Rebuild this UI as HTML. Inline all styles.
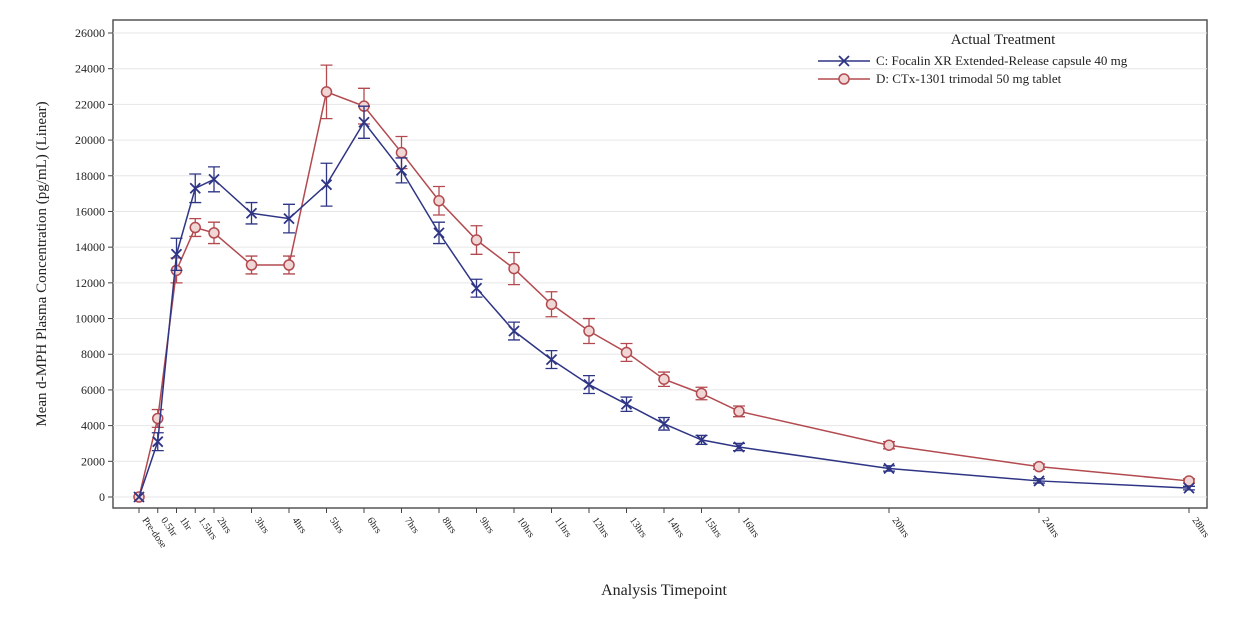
<!DOCTYPE html>
<html><head><meta charset="utf-8"><style>body{margin:0;background:#fff}svg{display:block}text{font-family:"Liberation Serif",serif;fill:#222}</style></head>
<body>
<svg id="s" width="1237" height="621" viewBox="0 0 1237 621"></svg>
<script>
const s=document.getElementById('s');let h='';
const X0=113,X1=1207,Y0=20,Y1=508;
const y=v=>497-v*(464/26000), x=t=>139+t*37.5;
h+=`<rect x="${X0}" y="${Y0}" width="${X1-X0}" height="${Y1-Y0}" fill="#fff" stroke="#555" stroke-width="1.5"/>`;
for(let v=0;v<=26000;v+=2000){h+=`<line x1="${X0}" x2="${X1}" y1="${y(v)}" y2="${y(v)}" stroke="#e6e6e6"/><line x1="${X0-5}" x2="${X0}" y1="${y(v)}" y2="${y(v)}" stroke="#444"/><text x="${X0-8}" y="${y(v)+4}" font-size="12" text-anchor="end">${v}</text>`;}
const T=[0,.5,1,1.5,2,3,4,5,6,7,8,9,10,11,12,13,14,15,16,20,24,28];
const L=['Pre-dose','0.5hr','1hr','1.5hrs','2hrs','3hrs','4hrs','5hrs','6hrs','7hrs','8hrs','9hrs','10hrs','11hrs','12hrs','13hrs','14hrs','15hrs','16hrs','20hrs','24hrs','28hrs'];
T.forEach((t,i)=>{h+=`<line x1="${x(t)}" x2="${x(t)}" y1="${Y1}" y2="${Y1+5}" stroke="#444"/><text transform="translate(${x(t)+3},${Y1+12}) rotate(55)" font-size="10">${L[i]}</text>`;});
const C=[0,3100,13600,17300,17800,15900,15600,17500,21000,18300,14800,11700,9300,7700,6300,5200,4100,3200,2800,1600,900,500];
const Ce=[0,500,900,800,700,600,800,1200,900,700,600,500,500,500,500,400,350,250,200,150,120,100];
const D=[0,4400,12700,15100,14800,13000,13000,22700,21900,19300,16600,14400,12800,10800,9300,8100,6600,5800,4800,2900,1700,900];
const De=[0,500,700,500,600,500,500,1500,1000,900,800,800,900,700,700,500,400,350,300,200,150,120];
function ser(d,e,c,m){let p=T.map((t,i)=>`${x(t)},${y(d[i])}`).join(' ');h+=`<polyline points="${p}" fill="none" stroke="${c}" stroke-width="1.5"/>`;
T.forEach((t,i)=>{const X=x(t),a=y(d[i]+e[i]),b=y(d[i]-e[i]);if(e[i])h+=`<path d="M${X},${a}V${b}M${X-6},${a}H${X+6}M${X-6},${b}H${X+6}" stroke="${c}" stroke-width="1.3"/>`;
const Y=y(d[i]);h+=m=='x'?`<path d="M${X-5},${Y-5}L${X+5},${Y+5}M${X-5},${Y+5}L${X+5},${Y-5}" stroke="${c}" stroke-width="1.8"/>`:`<circle cx="${X}" cy="${Y}" r="5" fill="#f1d6d6" stroke="${c}" stroke-width="1.5"/>`;});}
ser(D,De,'#b24a4f','o');ser(C,Ce,'#2f3585','x');
h+=`<text x="1003" y="44" font-size="15" text-anchor="middle">Actual Treatment</text>
<line x1="818" x2="870" y1="61" y2="61" stroke="#2f3585" stroke-width="1.5"/><path d="M839,56L849,66M839,66L849,56" stroke="#2f3585" stroke-width="1.8"/>
<text x="876" y="65" font-size="13">C: Focalin XR Extended-Release capsule 40 mg</text>
<line x1="818" x2="870" y1="79" y2="79" stroke="#b24a4f" stroke-width="1.5"/><circle cx="844" cy="79" r="5" fill="#f1d6d6" stroke="#b24a4f" stroke-width="1.5"/>
<text x="876" y="83" font-size="13">D: CTx-1301 trimodal 50 mg tablet</text>
<text x="664" y="595" font-size="16" text-anchor="middle">Analysis Timepoint</text>
<text transform="translate(46,264) rotate(-90)" font-size="15" text-anchor="middle">Mean d-MPH Plasma Concentration (pg/mL) (Linear)</text>`;
s.innerHTML=h;
</script>
</body></html>
